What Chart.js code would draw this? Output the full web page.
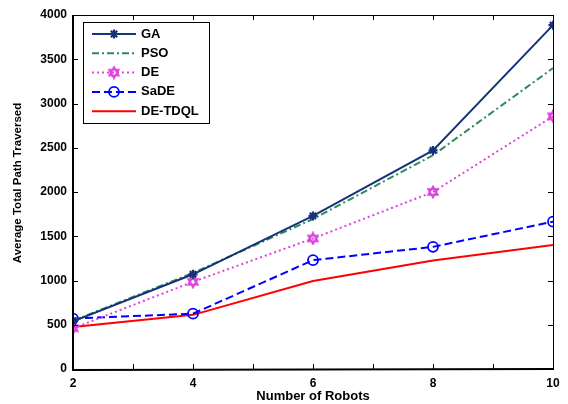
<!DOCTYPE html>
<html>
<head>
<meta charset="utf-8">
<script src="https://cdn.jsdelivr.net/npm/chart.js@4"></script>
<style>
html, body { margin: 0; padding: 0; background: #fff; }
#wrap { width: 568px; height: 404px; }
</style>
</head>
<body>
<div id="wrap"><canvas id="grafico" width="568" height="404"></canvas></div>
<script>
const robots = [2, 4, 6, 8, 10];
const gaValues = [540, 1070, 1730, 2470, 3885];
const psoValues = [545, 1085, 1695, 2415, 3400];
const deValues = [460, 985, 1475, 2000, 2855];
const sadeValues = [570, 625, 1230, 1380, 1665];
const detdqlValues = [475, 612, 995, 1225, 1400];
const xTicks = [2, 3, 4, 5, 6, 7, 8, 9, 10];
const yTicks = [0, 500, 1000, 1500, 2000, 2500, 3000, 3500, 4000];
const yTitle = 'Average Total Path Traversed';

const FONT = 'Liberation Sans, Arial, sans-serif';

// hexagram marker for DE
const hexa = document.createElement('canvas');
hexa.width = 14; hexa.height = 14;
(() => {
  const c = hexa.getContext('2d');
  c.strokeStyle = '#dd44dd';
  c.lineWidth = 1.8;
  const cx = 7, cy = 7, r = 5.5;
  for (const off of [-Math.PI / 2, Math.PI / 2]) {
    c.beginPath();
    for (let i = 0; i < 3; i++) {
      const a = off + i * 2 * Math.PI / 3;
      const px = cx + r * Math.cos(a), py = cy + r * Math.sin(a);
      i ? c.lineTo(px, py) : c.moveTo(px, py);
    }
    c.closePath();
    c.stroke();
  }
})();

const pts = (vals) => robots.map((x, i) => ({ x, y: vals[i] }));

const datasets = [
  { label: 'GA', data: pts(gaValues), borderColor: '#16327a', backgroundColor: '#16327a',
    borderWidth: 2, pointStyle: 'star', pointRadius: 4.5, pointBorderWidth: 2.2, pointBorderColor: '#16327a' },
  { label: 'PSO', data: pts(psoValues), borderColor: '#2e8b57', backgroundColor: '#2e8b57',
    borderWidth: 2, borderDash: [7, 3, 2, 3], pointRadius: 0 },
  { label: 'DE', data: pts(deValues), borderColor: '#dd44dd', backgroundColor: '#dd44dd',
    borderWidth: 2, borderDash: [2, 3], pointStyle: hexa, pointRadius: 7 },
  { label: 'SaDE', data: pts(sadeValues), borderColor: '#0000ff', backgroundColor: '#fff',
    borderWidth: 2, borderDash: [8, 4], pointStyle: 'circle', pointRadius: 5,
    pointBorderWidth: 1.8, pointBorderColor: '#0000ff', pointBackgroundColor: 'rgba(255,255,255,0)' },
  { label: 'DE-TDQL', data: pts(detdqlValues), borderColor: '#ff0000', backgroundColor: '#ff0000',
    borderWidth: 2, pointRadius: 0 }
];

// inward ticks, box and y title like matlab
const cajaEjes = {
  id: 'cajaEjes',
  afterDatasetsDraw(chart) {
    const { ctx, chartArea: a, scales: { x, y } } = chart;
    ctx.save();
    ctx.strokeStyle = '#000';
    ctx.lineWidth = 1;
    ctx.beginPath();
    xTicks.forEach((v) => {
      const px = Math.round(x.getPixelForValue(v)) + 0.5;
      ctx.moveTo(px, a.bottom); ctx.lineTo(px, a.bottom - 5);
      ctx.moveTo(px, a.top); ctx.lineTo(px, a.top + 5);
    });
    yTicks.forEach((v) => {
      const py = Math.round(y.getPixelForValue(v)) + 0.5;
      ctx.moveTo(a.left, py); ctx.lineTo(a.left + 5, py);
      ctx.moveTo(a.right, py); ctx.lineTo(a.right - 5, py);
    });
    ctx.stroke();
    ctx.lineWidth = 1;
    ctx.strokeRect(a.left + 0.5, a.top + 0.5, a.right - a.left, a.bottom - a.top);
    ctx.lineWidth = 2;
    ctx.beginPath();
    ctx.moveTo(a.left, a.top); ctx.lineTo(a.left, a.bottom + 1); ctx.lineTo(a.right + 1, a.bottom);
    ctx.stroke();

    ctx.translate(18, 183);
    ctx.rotate(-Math.PI / 2);
    ctx.fillStyle = '#000';
    ctx.font = 'bold 11.5px ' + FONT;
    ctx.textAlign = 'center';
    ctx.textBaseline = 'middle';
    ctx.fillText(yTitle, 0, 0);
    ctx.restore();
  }
};

// legend box with line samples and markers
const leyenda = {
  id: 'leyenda',
  afterDatasetsDraw(chart) {
    const { ctx } = chart;
    const bx = 83, by = 22, bw = 126, bh = 101;
    ctx.save();
    ctx.fillStyle = '#fff';
    ctx.fillRect(bx, by, bw, bh);
    ctx.strokeStyle = '#000';
    ctx.lineWidth = 1;
    ctx.strokeRect(bx + 0.5, by + 0.5, bw, bh);
    chart.data.datasets.forEach((ds, i) => {
      const yy = 34 + i * 19.3;
      ctx.strokeStyle = ds.borderColor;
      ctx.lineWidth = ds.borderWidth;
      ctx.setLineDash(ds.borderDash || []);
      ctx.beginPath();
      ctx.moveTo(92, yy); ctx.lineTo(136, yy);
      ctx.stroke();
      ctx.setLineDash([]);
      if (ds.pointRadius) {
        ctx.strokeStyle = ds.pointBorderColor || ds.borderColor;
        ctx.fillStyle = ds.pointBackgroundColor || ds.backgroundColor;
        ctx.lineWidth = ds.pointBorderWidth || 1;
        Chart.helpers.drawPoint(ctx, { pointStyle: ds.pointStyle, radius: ds.pointRadius, borderWidth: ds.pointBorderWidth || 1, rotation: 0 }, 114, yy);
      }
      ctx.fillStyle = '#000';
      ctx.font = 'bold 13px ' + FONT;
      ctx.textBaseline = 'middle';
      ctx.fillText(ds.label, 141, yy);
    });
    ctx.restore();
  }
};

new Chart(document.getElementById('grafico'), {
  type: 'line',
  data: { datasets },
  options: {
    responsive: false,
    animation: false,
    devicePixelRatio: 1,
    layout: { padding: { left: 0, top: 15, right: 15, bottom: 0 } },
    plugins: { legend: { display: false }, tooltip: { enabled: false } },
    scales: {
      x: {
        type: 'linear', min: 2, max: 10,
        afterBuildTicks: (s) => { s.ticks = xTicks.map((v) => ({ value: v })); },
        afterFit: (s) => { s.height = 35; },
        grid: { display: false, drawTicks: false },
        border: { display: false },
        ticks: {
          color: '#000', padding: 7, maxRotation: 0,
          font: { family: FONT, size: 12, weight: 'bold' },
          callback: (v) => (v % 2 === 0 ? String(v) : '')
        },
        title: {
          display: true, text: 'Number of Robots', color: '#000',
          padding: { top: 0, bottom: 0 },
          font: { family: FONT, size: 13, weight: 'bold' }
        }
      },
      y: {
        min: 0, max: 4000,
        afterBuildTicks: (s) => { s.ticks = yTicks.map((v) => ({ value: v })); },
        afterFit: (s) => { s.width = 73; },
        grid: { display: false, drawTicks: false },
        border: { display: false },
        ticks: {
          color: '#000', padding: 6,
          font: { family: FONT, size: 12, weight: 'bold' },
          callback: (v) => String(v)
        },
        title: { display: false }
      }
    }
  },
  plugins: [cajaEjes, leyenda]
});
</script>
</body>
</html>
